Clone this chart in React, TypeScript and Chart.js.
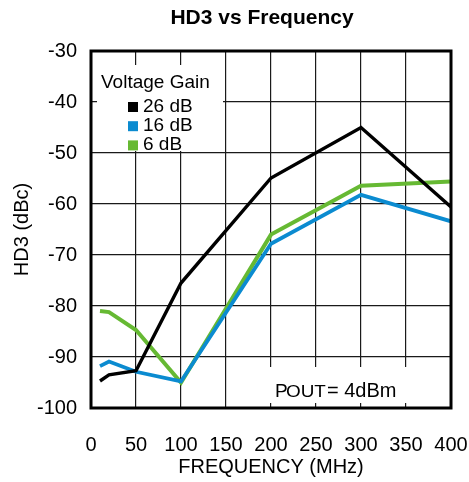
import React, { useEffect, useRef } from "react";
import { Chart, registerables } from "chart.js";

Chart.register(...registerables);

const chartTitle = "HD3 vs Frequency";
const xAxisTitle = "FREQUENCY (MHz)";
const yAxisTitle = "HD3 (dBc)";
const legendTitle = "Voltage Gain";

const frequenciesMHz = [10, 20, 50, 100, 200, 300, 400];
const hd3Gain26 = [-94.7, -93.5, -92.7, -75.5, -54.9, -45.0, -60.6];
const hd3Gain16 = [-91.8, -90.9, -92.9, -94.8, -67.8, -58.2, -63.4];
const hd3Gain6 = [-81.0, -81.2, -84.7, -95.0, -66.0, -56.4, -55.6];

const seriesLabels = ["26 dB", "16 dB", "6 dB"];
const seriesColors = ["#000000", "#0b8bd0", "#66b933"];
const seriesWidths = [3.4, 3.8, 4];

const xMin = 0;
const xMax = 400;
const xStep = 50;
const yMin = -100;
const yMax = -30;
const yStep = 10;

const annotationMain = "P";
const annotationSub = "OUT";
const annotationRest = "= 4dBm";

const FONT = "'Liberation Sans', Arial, Helvetica, sans-serif";

const decorPlugin = {
  id: "decor",
  beforeDatasetsDraw(chart: any) {
    const { ctx, chartArea: a } = chart;
    ctx.save();
    ctx.fillStyle = "#ffffff";
    // legend panel (covers grid)
    ctx.fillRect(a.left + 6, a.top + 14, 126, 86);
    // annotation panel
    ctx.fillRect(a.left + 171, a.bottom - 41, a.right - a.left - 176, 36);
    ctx.restore();
  },
  afterDatasetsDraw(chart: any) {
    const { ctx, chartArea: a } = chart;
    ctx.save();
    // frame
    ctx.strokeStyle = "#000000";
    ctx.lineWidth = 3;
    ctx.strokeRect(a.left, a.top, a.right - a.left, a.bottom - a.top);

    // title
    ctx.fillStyle = "#000000";
    ctx.font = `bold 21px ${FONT}`;
    ctx.textAlign = "center";
    ctx.textBaseline = "alphabetic";
    ctx.fillText(chartTitle, 262, 24);

    // legend
    ctx.textAlign = "left";
    ctx.font = `19px ${FONT}`;
    ctx.fillText(legendTitle, a.left + 10, a.top + 37);
    chart.data.datasets.forEach((ds: any, i: number) => {
      const base = a.top + 61 + i * 19.2;
      ctx.fillStyle = ds.borderColor;
      ctx.fillRect(a.left + 37, base - 10, 10, 10);
      ctx.fillStyle = "#000000";
      ctx.fillText(ds.label, a.left + 52, base);
    });

    // annotation
    const by = a.bottom - 11;
    ctx.font = `19px ${FONT}`;
    ctx.fillText(annotationMain, a.left + 184, by);
    ctx.font = `16px ${FONT}`;
    ctx.save();
    ctx.translate(a.left + 195, by);
    ctx.scale(1.18, 1);
    ctx.fillText(annotationSub, 0, 0);
    ctx.restore();
    ctx.font = `20px ${FONT}`;
    ctx.fillText(annotationRest, a.left + 236, by);
    ctx.restore();
  },
};

export default function App() {
  const canvasRef = useRef<HTMLCanvasElement | null>(null);

  useEffect(() => {
    const canvas = canvasRef.current;
    if (!canvas) return;
    const series = [hd3Gain26, hd3Gain16, hd3Gain6];
    const chart = new Chart(canvas, {
      type: "line",
      data: {
        datasets: series.map((vals, i) => ({
          label: seriesLabels[i],
          data: frequenciesMHz.map((f, j) => ({ x: f, y: vals[j] })),
          borderColor: seriesColors[i],
          backgroundColor: seriesColors[i],
          borderWidth: seriesWidths[i],
          pointRadius: 0,
          tension: 0,
          fill: false,
          borderJoinStyle: "miter" as const,
        })),
      },
      options: {
        responsive: false,
        animation: false,
        devicePixelRatio: 1,
        layout: { padding: { left: 0, right: 18, top: 51, bottom: 0 } },
        plugins: {
          legend: { display: false },
          title: { display: false },
          tooltip: { enabled: false },
        },
        scales: {
          x: {
            type: "linear",
            min: xMin,
            max: xMax,
            ticks: {
              stepSize: xStep,
              color: "#000000",
              font: { family: FONT, size: 20 },
              padding: 1,
              maxRotation: 0,
            },
            grid: {
              color: "#1a1a1a",
              lineWidth: 1.2,
              drawTicks: true,
              tickLength: 24,
              tickColor: "rgba(0,0,0,0)",
            },
            border: { display: false },
            title: {
              display: true,
              text: xAxisTitle,
              color: "#000000",
              font: { family: FONT, size: 20 },
              padding: { top: 0, bottom: 3 },
            },
            afterFit(scale: any) {
              scale.height = 74;
            },
          },
          y: {
            type: "linear",
            min: yMin,
            max: yMax,
            ticks: {
              stepSize: yStep,
              color: "#000000",
              font: { family: FONT, size: 20 },
              padding: 14,
            },
            grid: { color: "#1a1a1a", lineWidth: 1.2, drawTicks: false },
            border: { display: false },
            title: {
              display: true,
              text: yAxisTitle,
              color: "#000000",
              font: { family: FONT, size: 20 },
              padding: { top: 10, bottom: 0 },
            },
            afterFit(scale: any) {
              scale.width = 91;
            },
          },
        },
      },
      plugins: [decorPlugin],
    });
    return () => chart.destroy();
  }, []);

  return (
    <div style={{ position: "absolute", left: 0, top: 0, width: 469, height: 482, background: "#ffffff" }}>
      <canvas ref={canvasRef} width={469} height={482} />
    </div>
  );
}
